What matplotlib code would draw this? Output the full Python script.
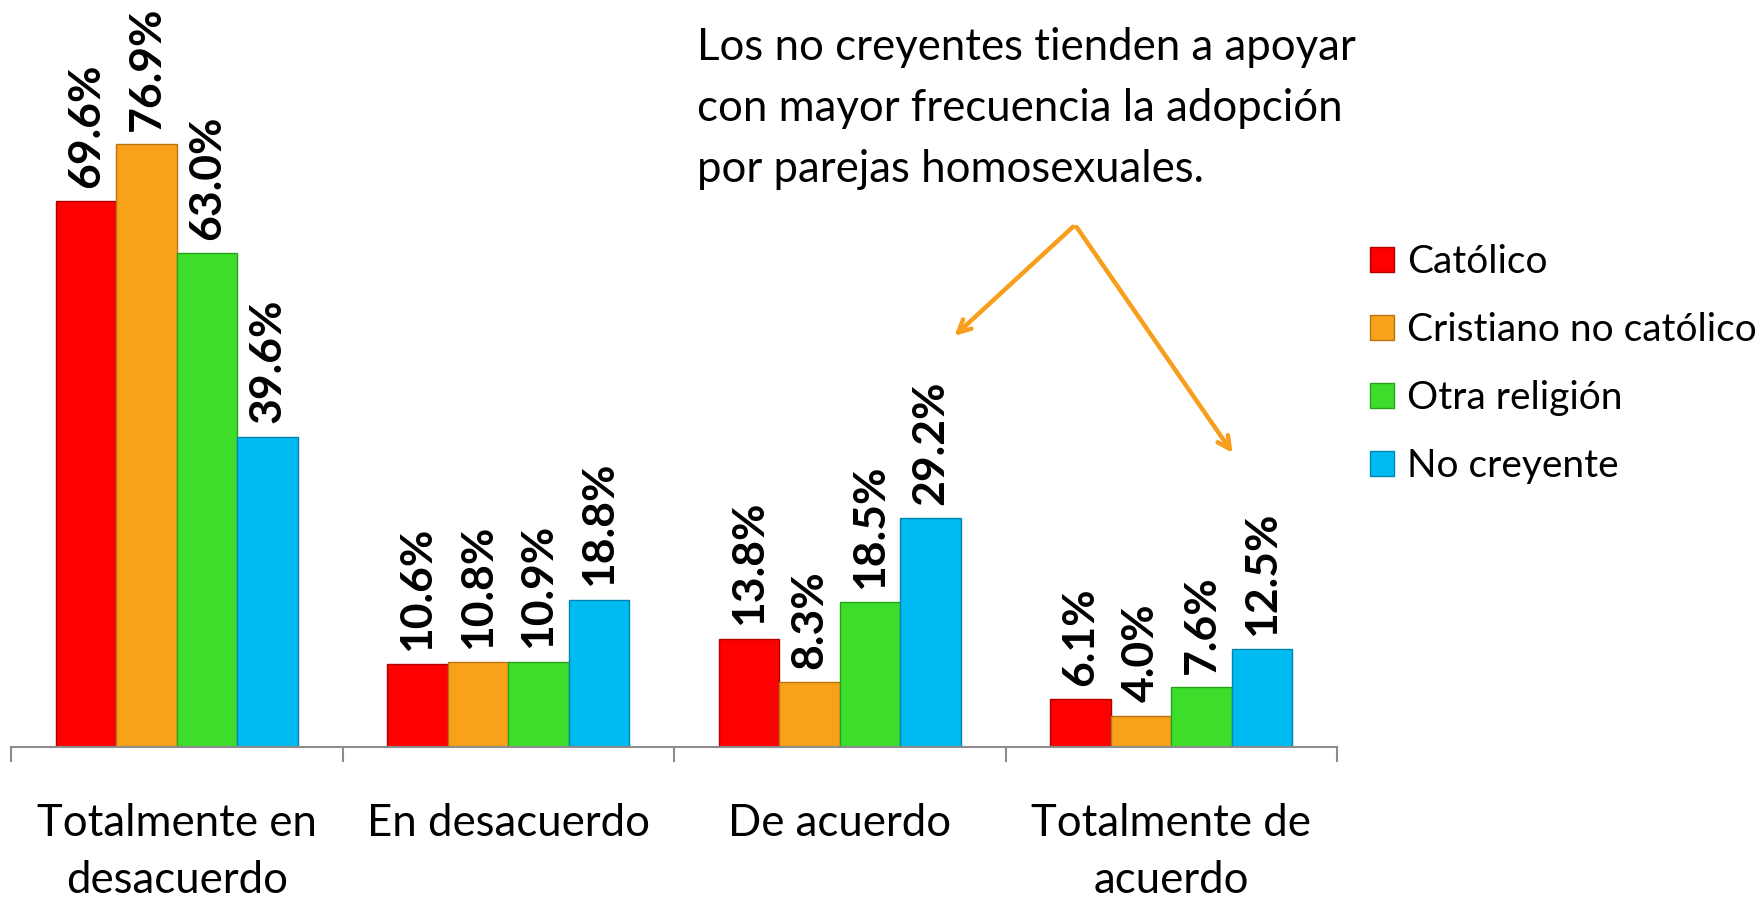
import matplotlib
matplotlib.use("Agg")
from matplotlib import pyplot as plt
import numpy as np

plt.rcParams['font.family'] = ['Lato', 'DejaVu Sans']

# Data
categories = ["Totalmente en\ndesacuerdo", "En desacuerdo", "De acuerdo", "Totalmente de\nacuerdo"]
series = ["Católico", "Cristiano no católico", "Otra religión", "No creyente"]
catolico = [69.6, 10.6, 13.8, 6.1]
cristiano = [76.9, 10.8, 8.3, 4.0]
otra = [63.0, 10.9, 18.5, 7.6]
no_creyente = [39.6, 18.8, 29.2, 12.5]
values = [catolico, cristiano, otra, no_creyente]

colors = ["#FF0000", "#F9A11B", "#3DDE2B", "#00BAF2"]
edges = ["#B00000", "#B8740E", "#27A11A", "#0085B0"]

fig = plt.figure(figsize=(17.63, 9.01), dpi=100)
ax = fig.add_axes([11 / 1763, 154 / 901, 1326 / 1763, 90 * 7.84 / 901])

x = np.arange(len(categories))
w = 0.1825
for i, (name, vals) in enumerate(zip(series, values)):
    pos = x + (i - 1.5) * w
    ax.bar(pos, vals, width=w, color=colors[i], edgecolor=edges[i], linewidth=1, label=name)
    for px, v in zip(pos, vals):
        ax.text(px, v + 1.7, f"{v:.1f}%", rotation=90, ha="center", va="bottom",
                fontsize=32, fontweight="bold", clip_on=False)

ax.set_xlim(-0.5, 3.5)
ax.set_ylim(0, 90)
ax.set_yticks([])
for s in ["top", "right", "left"]:
    ax.spines[s].set_visible(False)
ax.spines["bottom"].set_color("#8C8C8C")
ax.spines["bottom"].set_linewidth(1.5)

ax.set_xticks(x)
ax.set_xticklabels(categories, fontsize=31.5, linespacing=1.5)
ax.tick_params(axis="x", which="major", length=0, pad=40)
ax.set_xticks(np.arange(-0.5, 4.0, 1.0), minor=True)
ax.tick_params(axis="x", which="minor", length=11, width=1.5, color="#8C8C8C")

# annotation
ax.text(1.57, 91.9, "Los no creyentes tienden a apoyar\ncon mayor frecuencia la adopción\npor parejas homosexuales.",
        ha="left", va="top", fontsize=31.5, linespacing=1.62, clip_on=False)
arrow = dict(arrowstyle="->,head_length=0.9,head_width=0.45", color="#F99D1C", lw=3.2)
ax.annotate("", xy=(2.34, 52.2), xytext=(2.71, 66.6), arrowprops=arrow, annotation_clip=False)
ax.annotate("", xy=(3.19, 37.2), xytext=(2.71, 66.6), arrowprops=arrow, annotation_clip=False)

fig.legend(loc="upper left", bbox_to_anchor=(1351 / 1763, 1 - 225 / 901), frameon=False,
           fontsize=28, handlelength=0.6, handleheight=0.6, handletextpad=0.35,
           labelspacing=0.82, borderpad=0)

fig.savefig("out.png", dpi=100)
